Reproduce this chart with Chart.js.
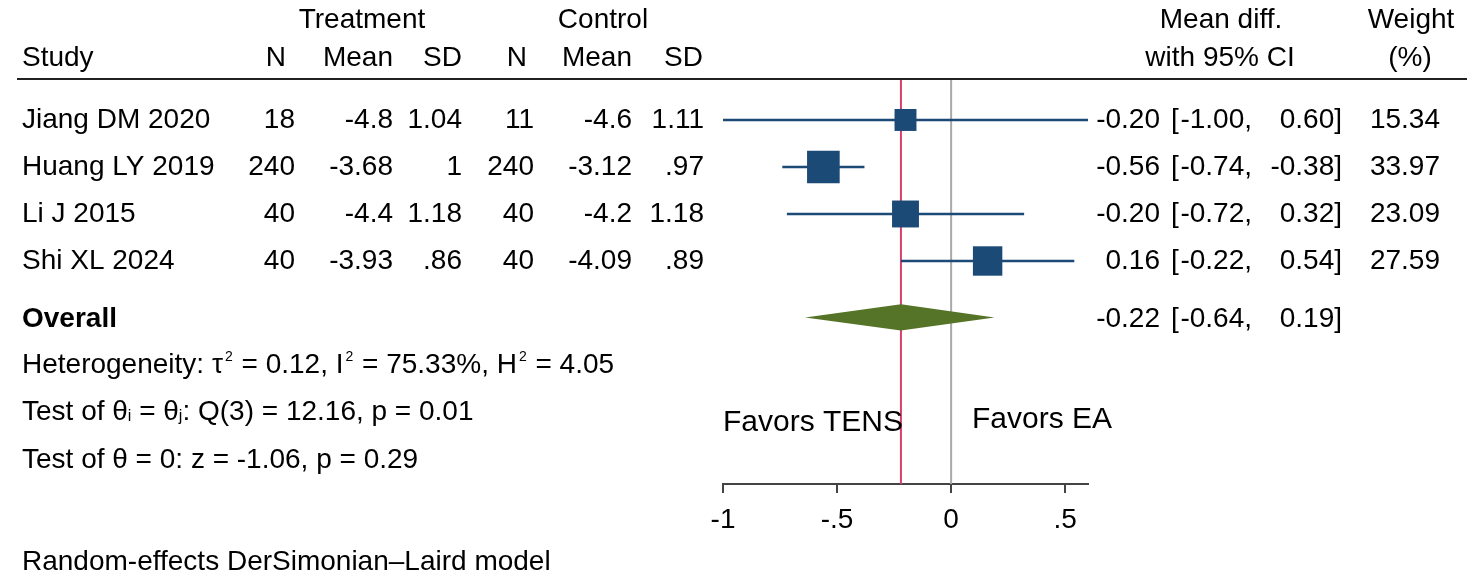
<!DOCTYPE html>
<html>
<head>
<meta charset="utf-8">
<script src="https://cdn.jsdelivr.net/npm/chart.js@4.4.1/dist/chart.umd.min.js"></script>
<style>
html, body { margin: 0; padding: 0; background: #fff; }
canvas { display: block; }
</style>
</head>
<body>
<canvas id="forest" width="1477" height="580"></canvas>
<script>
// study table
var studies = ["Jiang DM 2020", "Huang LY 2019", "Li J 2015", "Shi XL 2024"];
var treatN = [18, 240, 40, 40];
var treatMean = [-4.8, -3.68, -4.4, -3.93];
var treatSD = [1.04, 1, 1.18, 0.86];
var ctrlN = [11, 240, 40, 40];
var ctrlMean = [-4.6, -3.12, -4.2, -4.09];
var ctrlSD = [1.11, 0.97, 1.18, 0.89];

// effect sizes
var meanDiff = [-0.20, -0.56, -0.20, 0.16];
var ciLow = [-1.00, -0.74, -0.72, -0.22];
var ciHigh = [0.60, -0.38, 0.32, 0.54];
var weights = [15.34, 33.97, 23.09, 27.59];

// pooled estimate
var overallEst = -0.22;
var overallLow = -0.64;
var overallHigh = 0.19;

// x axis
var tickValues = [-1, -0.5, 0, 0.5];
var tickLabels = ["-1", "-.5", "0", ".5"];

var FONT = "'Liberation Sans', Arial, sans-serif";
var NAVY = "#1c4a77";
var GREEN = "#557427";

// row layout (row units on the hidden y axis)
var yMin = 0.128, yMax = 8.745;
var overallRow = 5.2;
var statRows = [6.21, 7.21, 8.23];
var diamondHalf = 0.28;

function fmt(v) {
  return String(v).replace(/^(-?)0\./, "$1.");
}

var datasets = [];

// squares, drawn on top
datasets.push({
  type: "scatter",
  data: studies.map(function (s, i) { return { x: meanDiff[i], y: i + 1 }; }),
  pointStyle: "rect",
  pointRadius: weights.map(function (w) { return 3.96 * Math.sqrt(w); }),
  pointHoverRadius: weights.map(function (w) { return 3.96 * Math.sqrt(w); }),
  backgroundColor: NAVY,
  borderColor: NAVY,
  borderWidth: 0
});

// pooled diamond
datasets.push({
  type: "line",
  data: [
    { x: overallLow, y: overallRow },
    { x: overallEst, y: overallRow - diamondHalf },
    { x: overallHigh, y: overallRow },
    { x: overallEst, y: overallRow + diamondHalf },
    { x: overallLow, y: overallRow }
  ],
  borderWidth: 0,
  borderColor: GREEN,
  backgroundColor: GREEN,
  fill: "shape",
  pointRadius: 0,
  tension: 0
});

// confidence intervals
studies.forEach(function (s, i) {
  datasets.push({
    type: "line",
    data: [{ x: ciLow[i], y: i + 1 }, { x: ciHigh[i], y: i + 1 }],
    borderColor: NAVY,
    borderWidth: 2.5,
    pointRadius: 0,
    fill: false
  });
});

// reference lines
datasets.push({
  type: "line",
  data: [{ x: overallEst, y: yMin }, { x: overallEst, y: yMax }],
  borderColor: "#d9406b",
  borderWidth: 2,
  pointRadius: 0,
  fill: false
});
datasets.push({
  type: "line",
  data: [{ x: 0, y: yMin }, { x: 0, y: yMax }],
  borderColor: "#a9a9a9",
  borderWidth: 2,
  pointRadius: 0,
  fill: false
});

function drawRich(ctx, x, y, parts) {
  parts.forEach(function (p) {
    var kind = p[1] || "n";
    if (kind === "n") {
      ctx.font = "28px " + FONT;
      ctx.fillText(p[0], x, y);
      x += ctx.measureText(p[0]).width;
    } else if (kind === "sup") {
      ctx.font = "14px " + FONT;
      ctx.fillText(p[0], x + 2, y - 8);
      x += ctx.measureText(p[0]).width + 3;
    } else {
      ctx.font = "16px " + FONT;
      ctx.fillText(p[0], x, y + 5);
      x += ctx.measureText(p[0]).width;
    }
  });
}

var tablePlugin = {
  id: "forestTable",
  afterDraw: function (chart) {
    var ctx = chart.ctx;
    var ys = chart.scales.y;
    ctx.save();
    ctx.fillStyle = "#000";
    ctx.textBaseline = "middle";
    ctx.font = "28px " + FONT;

    function txt(s, x, y, align) {
      ctx.textAlign = align || "left";
      ctx.fillText(s, x, y);
    }

    // header
    txt("Treatment", 362, 20, "center");
    txt("Control", 603, 20, "center");
    txt("Mean diff.", 1221, 20, "center");
    txt("Weight", 1411, 20, "center");
    txt("Study", 22, 58);
    txt("N", 286, 58, "right");
    txt("Mean", 393, 58, "right");
    txt("SD", 462, 58, "right");
    txt("N", 527, 58, "right");
    txt("Mean", 632, 58, "right");
    txt("SD", 703, 58, "right");
    txt("with 95% CI", 1220, 58, "center");
    txt("(%)", 1410, 58, "center");

    ctx.strokeStyle = "#222";
    ctx.lineWidth = 2;
    ctx.beginPath();
    ctx.moveTo(17, 79);
    ctx.lineTo(1467, 79);
    ctx.stroke();

    // study rows
    studies.forEach(function (s, i) {
      var y = ys.getPixelForValue(i + 1);
      txt(s, 22, y);
      txt(fmt(treatN[i]), 295, y, "right");
      txt(fmt(treatMean[i]), 393, y, "right");
      txt(fmt(treatSD[i]), 462, y, "right");
      txt(fmt(ctrlN[i]), 534, y, "right");
      txt(fmt(ctrlMean[i]), 632, y, "right");
      txt(fmt(ctrlSD[i]), 704, y, "right");
      txt(meanDiff[i].toFixed(2), 1160, y, "right");
      txt("[", 1171, y);
      txt(ciLow[i].toFixed(2) + ",", 1252, y, "right");
      txt(ciHigh[i].toFixed(2) + "]", 1342, y, "right");
      txt(weights[i].toFixed(2), 1440, y, "right");
    });

    // overall row
    var yo = ys.getPixelForValue(overallRow);
    ctx.font = "bold 28px " + FONT;
    txt("Overall", 22, yo + 2);
    ctx.font = "28px " + FONT;
    txt(overallEst.toFixed(2), 1160, yo + 2, "right");
    txt("[", 1171, yo + 2);
    txt(overallLow.toFixed(2) + ",", 1252, yo + 2, "right");
    txt(overallHigh.toFixed(2) + "]", 1342, yo + 2, "right");

    // statistics
    ctx.textAlign = "left";
    drawRich(ctx, 22, ys.getPixelForValue(statRows[0]), [
      ["Heterogeneity: \u03c4"], ["2", "sup"], [" = 0.12, I"], ["2", "sup"],
      [" = 75.33%, H"], ["2", "sup"], [" = 4.05"]
    ]);
    drawRich(ctx, 22, ys.getPixelForValue(statRows[1]), [
      ["Test of \u03b8"], ["i", "sub"], [" = \u03b8"], ["j", "sub"],
      [": Q(3) = 12.16, p = 0.01"]
    ]);
    drawRich(ctx, 22, ys.getPixelForValue(statRows[2]), [
      ["Test of \u03b8 = 0: z = -1.06, p = 0.29"]
    ]);

    // direction labels
    ctx.font = "30px " + FONT;
    txt("Favors TENS", chart.chartArea.left, 423);
    txt("Favors EA", 972, 420);

    ctx.font = "28px " + FONT;
    txt("Random-effects DerSimonian\u2013Laird model", 22, 562);
    ctx.restore();
  }
};

new Chart(document.getElementById("forest"), {
  type: "scatter",
  data: { datasets: datasets },
  plugins: [tablePlugin],
  options: {
    responsive: false,
    animation: false,
    events: [],
    layout: { padding: { left: 723, right: 389, top: 79, bottom: 0 } },
    plugins: {
      legend: { display: false },
      tooltip: { enabled: false }
    },
    scales: {
      x: {
        type: "linear",
        position: "bottom",
        min: -1,
        max: 0.6,
        afterBuildTicks: function (scale) {
          scale.ticks = tickValues.map(function (v) { return { value: v }; });
        },
        afterFit: function (scale) {
          scale.height = 96;
        },
        ticks: {
          autoSkip: false,
          maxRotation: 0,
          padding: 10,
          color: "#000",
          font: { family: FONT, size: 28 },
          callback: function (value) {
            var i = tickValues.indexOf(value);
            return i >= 0 ? tickLabels[i] : "";
          }
        },
        grid: {
          drawOnChartArea: false,
          drawTicks: true,
          tickLength: 9,
          color: "#444",
          lineWidth: 2
        },
        border: { display: true, color: "#444", width: 2 }
      },
      y: {
        type: "linear",
        display: false,
        reverse: true,
        min: yMin,
        max: yMax
      }
    }
  }
});
</script>
</body>
</html>
